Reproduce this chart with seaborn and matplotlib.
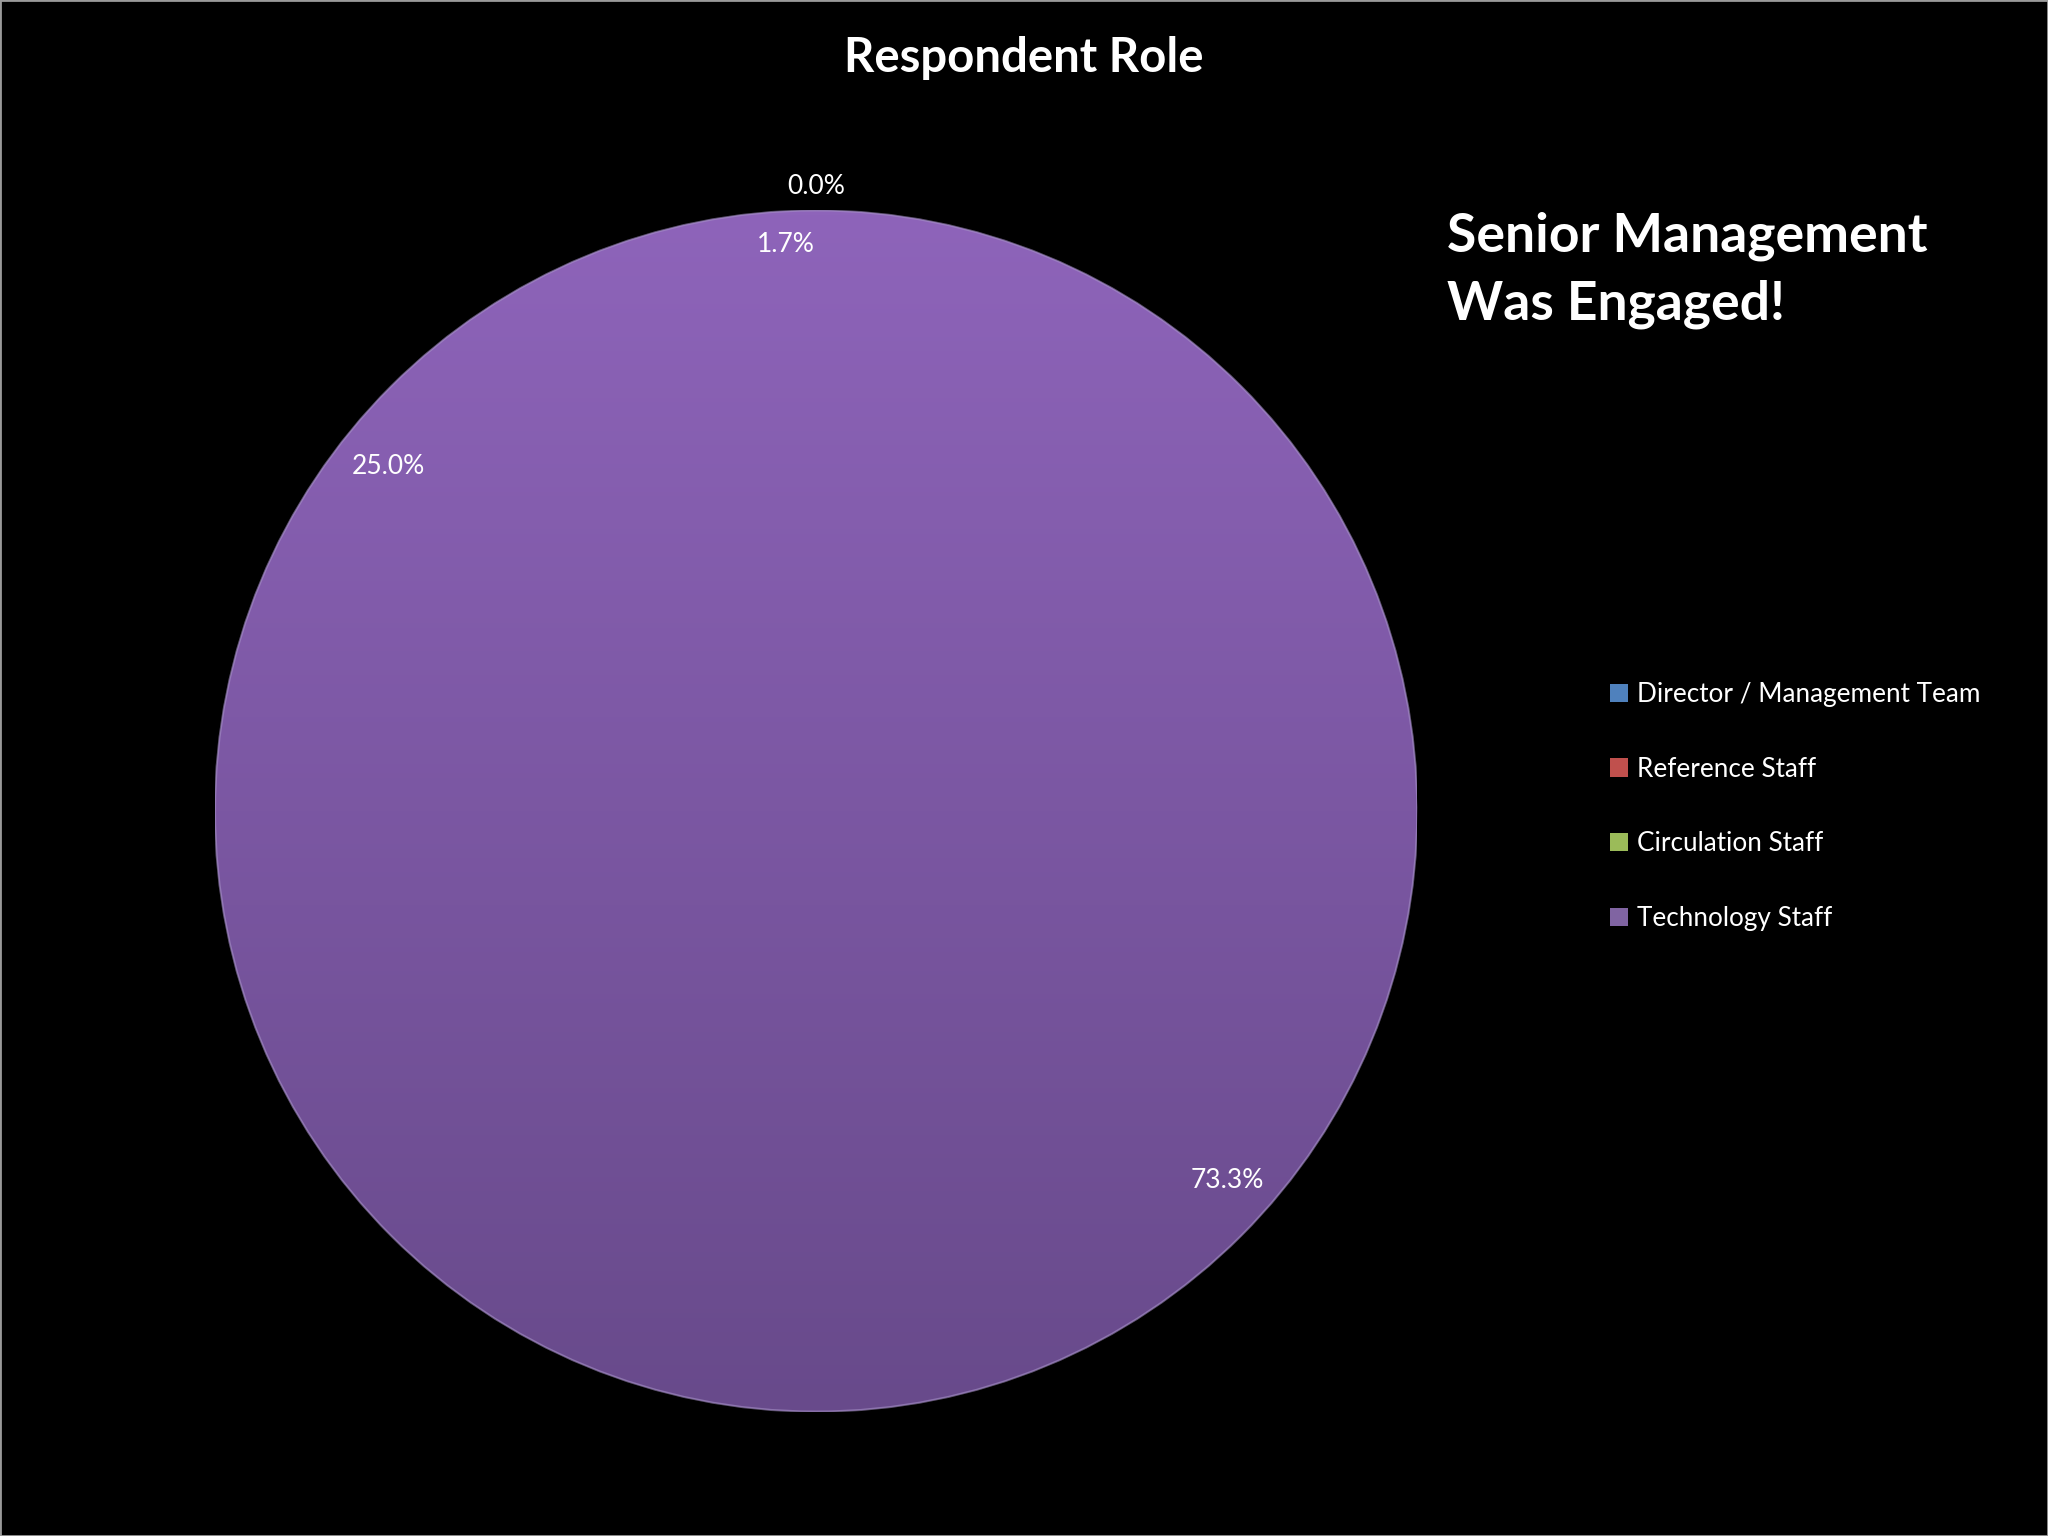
"""Respondent Role pie chart on a black slide."""

import numpy as np
import matplotlib
import matplotlib.pyplot as plt
from matplotlib.colors import LinearSegmentedColormap
from matplotlib.patches import Patch, Circle, Rectangle
import seaborn as sns

matplotlib.use("Agg")

ROLES = ["Director / Management Team", "Reference Staff", "Circulation Staff", "Technology Staff"]
SHARES = [0.0, 73.3, 25.0, 1.7]
LEGEND_COLORS = ["#4F81BD", "#C0504D", "#9BBB59", "#8064A2"]
# where each percentage label sits, as a fraction of the radius
LABEL_RADII = [1.04, 0.92, 0.915, 0.945]

TITLE = "Respondent Role"
NOTE = "Senior Management\nWas Engaged!"

sns.set_theme(style="dark")
plt.rcParams["font.family"] = ["Lato", "DejaVu Sans"]

PIE_TOP = "#8E64BA"
PIE_BOTTOM = "#684A8B"


def main() -> None:
    fig = plt.figure(figsize=(20.48, 15.36), dpi=100, facecolor="black")
    ax = fig.add_axes([0.105, 0.081, 0.587, 0.782])
    ax.set_facecolor("black")

    wedges, _ = ax.pie(SHARES, startangle=90, counterclock=False,
                       colors=[PIE_TOP] * len(SHARES),
                       wedgeprops=dict(linewidth=0))
    ax.set_xlim(-1, 1)
    ax.set_ylim(-1, 1)
    ax.set_aspect("equal")
    ax.axis("off")

    # one vertical gradient over the whole disc, so no seams between slices
    disc = Circle((0, 0), 1.0, transform=ax.transData)
    grad = np.linspace(1, 0, 256).reshape(-1, 1)
    cmap = LinearSegmentedColormap.from_list("pie", [PIE_BOTTOM, PIE_TOP])
    im = ax.imshow(grad, cmap=cmap, extent=(-1, 1, -1, 1), aspect="auto",
                   origin="upper", zorder=3)
    im.set_clip_path(disc)
    ax.add_patch(Circle((0, 0), 1.0, fill=False, edgecolor="#A590C6",
                        linewidth=1.5, alpha=0.6, zorder=5))

    total = sum(SHARES)
    for w, val, r in zip(wedges, SHARES, LABEL_RADII):
        ang = np.deg2rad((w.theta1 + w.theta2) / 2)
        ax.text(r * np.cos(ang), r * np.sin(ang), f"{val / total * 100:.1f}%",
                ha="center", va="center", color="white", fontsize=19,
                zorder=6, clip_on=False)

    fig.text(0.5, 0.962, TITLE, ha="center", va="center", color="white",
             fontsize=34, fontweight="bold")
    fig.text(0.7065, 0.862, NOTE, ha="left", va="top", color="white",
             fontsize=38.5, fontweight="bold", linespacing=1.45)

    handles = [Patch(facecolor=c, edgecolor="none") for c in LEGEND_COLORS]
    fig.legend(handles, ROLES, loc="upper left", bbox_to_anchor=(0.786, 0.556),
               frameon=False, fontsize=18.8, labelcolor="white",
               handlelength=0.7, handleheight=0.7, handletextpad=0.35,
               labelspacing=1.9, borderaxespad=0, borderpad=0)

    fig.add_artist(Rectangle((0, 0), 1, 1, transform=fig.transFigure,
                             fill=False, edgecolor="#9A9A9A", linewidth=2))

    fig.savefig("out.png", dpi=100, facecolor="black")
    plt.close(fig)


if __name__ == "__main__":
    main()
